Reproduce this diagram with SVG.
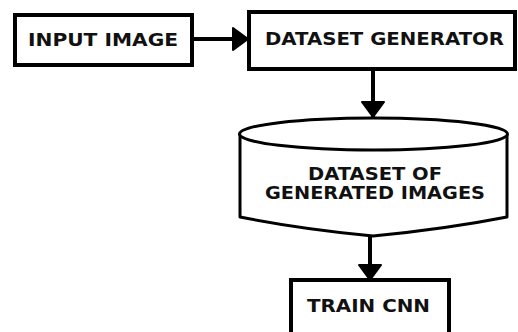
<svg xmlns="http://www.w3.org/2000/svg" width="518" height="332" viewBox="0 0 518 332">
  <style>
    .box { fill: #fff; stroke: #000; stroke-width: 4; }
    .db { fill: #fff; stroke: #000; stroke-width: 3; stroke-linejoin: round; }
    .lbl { font-family: "DejaVu Sans", Verdana, sans-serif; font-weight: bold; font-size: 17px; fill: #111; text-anchor: middle; }
    .wire { fill: none; stroke: #000; stroke-width: 4; }
  </style>
  <defs>
    <marker id="head" viewBox="0 0 17 24" refX="16" refY="12" markerWidth="17" markerHeight="24" markerUnits="userSpaceOnUse" orient="auto">
      <path d="M1,1 L16,12 L1,23 Z" fill="#000" stroke="#000" stroke-width="2" stroke-linejoin="round"/>
    </marker>
  </defs>
  <rect width="518" height="332" fill="#fff"/>

  <g id="connectors">
    <line class="wire" x1="194" y1="39" x2="248" y2="39" marker-end="url(#head)"/>
    <line class="wire" x1="373" y1="71" x2="373" y2="117" marker-end="url(#head)"/>
    <line class="wire" x1="370" y1="236" x2="370" y2="280" marker-end="url(#head)"/>
  </g>

  <g id="input-image">
    <rect class="box" x="15" y="15" width="177" height="50"/>
    <text class="lbl" x="103" y="46" textLength="150" lengthAdjust="spacingAndGlyphs">INPUT IMAGE</text>
  </g>

  <g id="dataset-generator">
    <rect class="box" x="249" y="12" width="266" height="57"/>
    <text class="lbl" x="384.5" y="45" textLength="239" lengthAdjust="spacingAndGlyphs">DATASET GENERATOR</text>
  </g>

  <g id="dataset-store">
    <path class="db" d="M240,134 L240,217 Q300,229 373,236 Q446,229 507,217 L507,134"/>
    <ellipse class="db" cx="373.5" cy="134" rx="134" ry="16"/>
    <text class="lbl" x="375" y="180" textLength="134" lengthAdjust="spacingAndGlyphs">DATASET OF</text>
    <text class="lbl" x="375" y="199" textLength="220" lengthAdjust="spacingAndGlyphs">GENERATED IMAGES</text>
  </g>

  <g id="train-cnn">
    <rect class="box" x="291" y="280" width="158" height="62"/>
    <text class="lbl" x="368.5" y="312" textLength="123" lengthAdjust="spacingAndGlyphs">TRAIN CNN</text>
  </g>
</svg>
